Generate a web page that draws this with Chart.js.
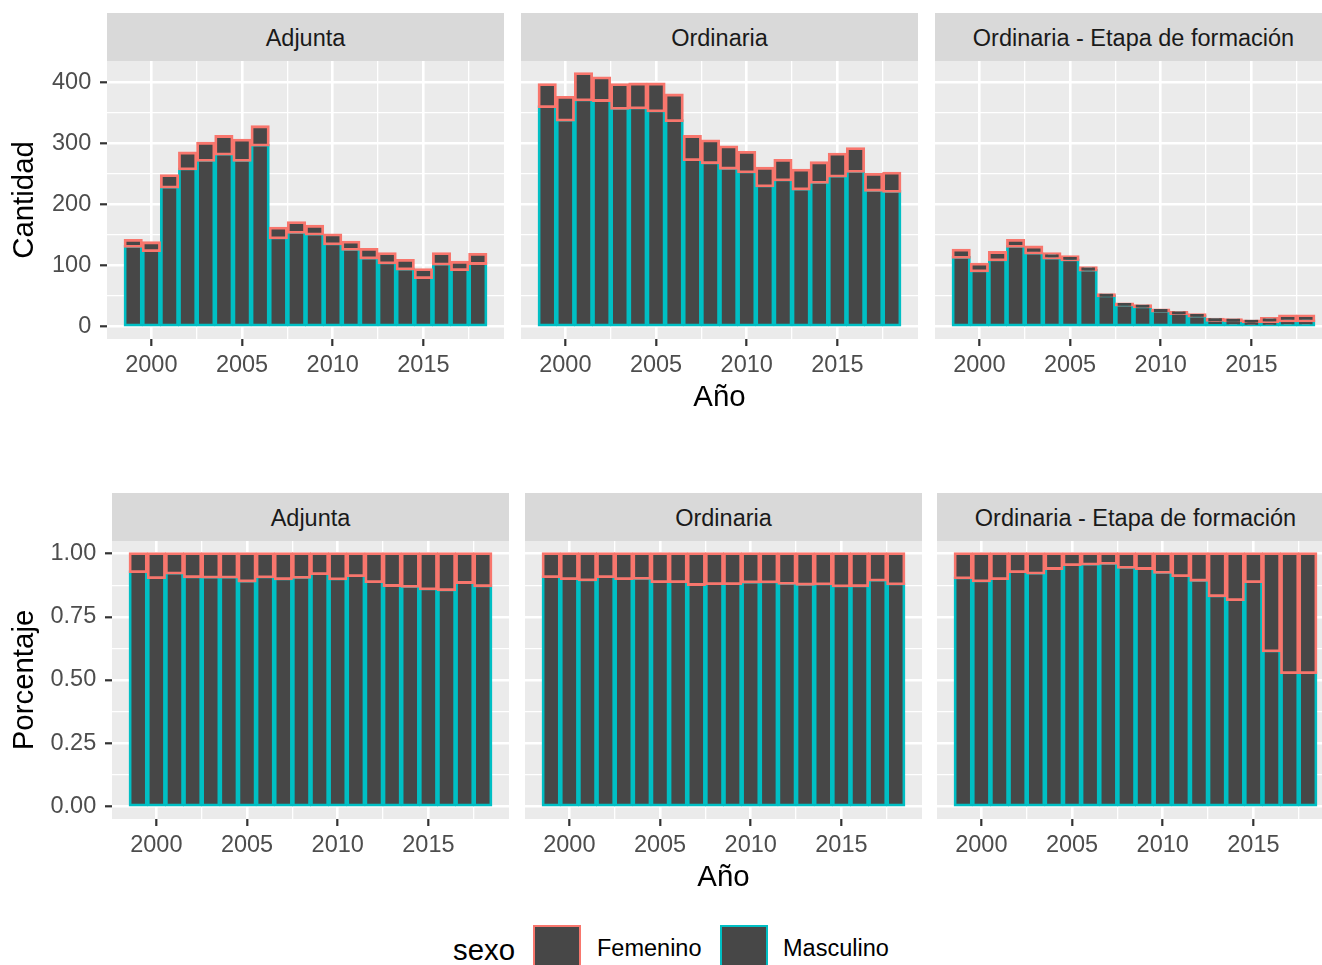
<!DOCTYPE html>
<html>
<head>
<meta charset="utf-8">
<title>Cantidad y porcentaje por sexo</title>
<script src="https://cdn.jsdelivr.net/npm/chart.js@4.4.1/dist/chart.umd.min.js"></script>
<style>
  html, body { margin: 0; padding: 0; background: #ffffff; width: 1322px; height: 965px; overflow: hidden; }
  body { position: relative; font-family: "Liberation Sans", Arial, Helvetica, sans-serif; }
  .strip { position: absolute; background: #D9D9D9; color: #1A1A1A; font-size: 23.5px; text-align: center;
           box-sizing: border-box; height: 48px; padding-top: 3px; line-height: 45px; white-space: nowrap; overflow: hidden; }
  canvas { position: absolute; }
  .leg { position: absolute; line-height: 1; white-space: nowrap; color: #000; }
  .key { position: absolute; box-sizing: border-box; width: 48px; height: 48px; }
</style>
</head>
<body>
<script>
// ---- data ----------------------------------------------------------------
const years = [1999, 2000, 2001, 2002, 2003, 2004, 2005, 2006, 2007, 2008,
               2009, 2010, 2011, 2012, 2013, 2014, 2015, 2016, 2017, 2018];

const categories = ['Adjunta', 'Ordinaria', 'Ordinaria - Etapa de formación'];
const seriesNames = ['Femenino', 'Masculino'];

const adjuntaFemenino   = [10, 13, 19, 26, 28, 29, 33, 30, 16, 16, 13, 15, 12, 14, 15, 14, 13, 17, 12, 15];
const adjuntaMasculino  = [131, 124, 228, 258, 272, 282, 272, 297, 145, 154, 151, 135, 126, 112, 104, 94, 80, 102, 93, 103];

const ordinariaFemenino  = [36, 37, 43, 37, 39, 39, 44, 42, 38, 36, 35, 32, 29, 32, 31, 32, 36, 37, 26, 30];
const ordinariaMasculino = [360, 338, 371, 370, 357, 358, 353, 337, 273, 268, 259, 253, 230, 240, 225, 236, 246, 254, 223, 221];

const etapaFemenino  = [12, 11, 12, 10, 10, 7, 5, 4, 2, 2, 2, 2, 2, 2, 2, 2, 1, 5, 8, 8];
const etapaMasculino = [113, 91, 109, 131, 120, 112, 109, 92, 50, 35, 32, 25, 21, 17, 10, 9, 8, 8, 9, 9];

// axis breaks and their labels
const yearBreaks = [2000, 2005, 2010, 2015];
const yearLabels = ['2000', '2005', '2010', '2015'];
const yearMinorBreaks = [2002.5, 2007.5, 2012.5, 2017.5];

const countBreaks = [0, 100, 200, 300, 400];
const countLabels = ['0', '100', '200', '300', '400'];
const countMinorBreaks = [50, 150, 250, 350];

const shareBreaks = [0, 0.25, 0.5, 0.75, 1];
const shareLabels = ['0.00', '0.25', '0.50', '0.75', '1.00'];
const shareMinorBreaks = [0.125, 0.375, 0.625, 0.875];

const femeninoData  = [adjuntaFemenino, ordinariaFemenino, etapaFemenino];
const masculinoData = [adjuntaMasculino, ordinariaMasculino, etapaMasculino];

// ---- style ---------------------------------------------------------------
const FONT = '"Liberation Sans", Arial, Helvetica, sans-serif';
const colFem = '#F8766D';
const colMasc = '#00BFC4';
const barFill = '#474747';
const panelBg = '#EBEBEB';

// ---- scale limits (5% expansion as in the plotting grammar) -------------
const totals = femeninoData.flatMap((f, k) => f.map((v, i) => v + masculinoData[k][i]));
const maxTotal = Math.max(...totals);
const countMin = -0.05 * maxTotal, countMax = 1.05 * maxTotal;
const shareMin = -0.05, shareMax = 1.05;
const xLo = years[0] - 0.45, xHi = years[years.length - 1] + 0.45;
const xMin = xLo - 0.05 * (xHi - xLo), xMax = xHi + 0.05 * (xHi - xLo);

// ---- panel background plugin --------------------------------------------
const panelBackground = {
  id: 'panelBackground',
  beforeDraw(chart) {
    const {ctx, chartArea: a} = chart;
    ctx.save();
    ctx.fillStyle = panelBg;
    ctx.fillRect(a.left, a.top, a.right - a.left, a.bottom - a.top);
    ctx.restore();
  }
};

function gridScale(major, minor, labels, opts) {
  const isMajor = v => major.indexOf(v) !== -1;
  return {
    type: 'linear',
    position: opts.position,
    min: opts.min,
    max: opts.max,
    offset: false,
    afterBuildTicks: s => { s.ticks = major.concat(minor).sort((a, b) => a - b).map(v => ({value: v})); },
    ticks: {
      display: opts.showLabels,
      autoSkip: false,
      maxRotation: 0,
      minRotation: 0,
      padding: opts.labelPad,
      color: '#4D4D4D',
      font: {family: FONT, size: 23.5},
      callback: v => { const i = major.indexOf(v); return i === -1 ? '' : labels[i]; }
    },
    grid: {
      offset: false,
      color: '#FFFFFF',
      lineWidth: c => (c.tick && isMajor(c.tick.value)) ? 2.6 : 1.3,
      drawTicks: opts.showLabels,
      tickLength: 7,
      tickWidth: 2.2,
      tickColor: c => (c.tick && isMajor(c.tick.value)) ? '#333333' : 'rgba(0,0,0,0)'
    },
    border: {display: false},
    title: opts.title ? {
      display: true,
      text: opts.title,
      color: '#000000',
      font: {family: FONT, size: 29.4},
      padding: opts.titlePad
    } : {display: false},
    afterFit: s => {
      if (opts.position === 'left') s.width = opts.size; else s.height = opts.size;
      s.paddingTop = 0; s.paddingBottom = 0; s.paddingLeft = 0; s.paddingRight = 0;
    }
  };
}

function makePanel(p) {
  const fem = femeninoData[p.facet];
  const masc = masculinoData[p.facet];
  const share = p.mode === 'share';
  const bottomSeg = years.map((y, i) => {
    const t = share ? masc[i] + fem[i] : 1;
    return {x: y, y: [0, masc[i] / t]};
  });
  const topSeg = years.map((y, i) => {
    const t = share ? masc[i] + fem[i] : 1;
    return {x: y, y: [masc[i] / t, (masc[i] + fem[i]) / t]};
  });

  const canvas = document.createElement('canvas');
  canvas.width = p.yAxisW + p.panelW;
  canvas.height = p.panelH + p.xAxisH;
  canvas.style.left = p.left + 'px';
  canvas.style.top = p.top + 'px';
  document.body.appendChild(canvas);

  const barOpts = {
    backgroundColor: barFill,
    borderWidth: 2.8,
    inflateAmount: 1.4,
    borderSkipped: false,
    grouped: false,
    barPercentage: 0.9,
    categoryPercentage: 1
  };

  new Chart(canvas, {
    type: 'bar',
    data: {
      datasets: [
        Object.assign({label: seriesNames[0], data: topSeg, borderColor: colFem}, barOpts),
        Object.assign({label: seriesNames[1], data: bottomSeg, borderColor: colMasc}, barOpts)
      ]
    },
    options: {
      responsive: false,
      animation: false,
      events: [],
      layout: {padding: 0},
      plugins: {legend: {display: false}, tooltip: {enabled: false}, title: {display: false}},
      scales: {
        x: gridScale(yearBreaks, yearMinorBreaks, yearLabels, {
          position: 'bottom', min: xMin, max: xMax, showLabels: true, labelPad: 5,
          title: p.xTitle, titlePad: {top: 0, bottom: 3.9}, size: p.xAxisH
        }),
        y: gridScale(share ? shareBreaks : countBreaks,
                     share ? shareMinorBreaks : countMinorBreaks,
                     share ? shareLabels : countLabels, {
          position: 'left',
          min: share ? shareMin : countMin, max: share ? shareMax : countMax,
          showLabels: !!p.yTitle, labelPad: 8.8,
          title: p.yTitle, titlePad: {top: 7.4, bottom: 0}, size: p.yAxisW
        })
      }
    },
    plugins: [panelBackground]
  });

  const strip = document.createElement('div');
  strip.className = 'strip';
  strip.textContent = categories[p.facet];
  strip.style.left = (p.left + p.yAxisW) + 'px';
  strip.style.top = (p.top - 48) + 'px';
  strip.style.width = p.panelW + 'px';
  document.body.appendChild(strip);
}

// ---- layout: two rows of three facets -----------------------------------
const PANEL_W = 397, PANEL_H = 278, XAXIS_H = 80;
const rows = [
  {mode: 'count', top: 61,  lefts: [0, 521, 935], firstAxisW: 107, yTitle: 'Cantidad'},
  {mode: 'share', top: 541, lefts: [0, 525, 937], firstAxisW: 112, yTitle: 'Porcentaje'}
];
rows.forEach(r => {
  [0, 1, 2].forEach(k => {
    makePanel({
      facet: k,
      mode: r.mode,
      left: r.lefts[k],
      top: r.top,
      yAxisW: k === 0 ? r.firstAxisW : 0,
      panelW: PANEL_W,
      panelH: PANEL_H,
      xAxisH: XAXIS_H,
      yTitle: k === 0 ? r.yTitle : null,
      xTitle: k === 1 ? 'Año' : null
    });
  });
});

// ---- legend --------------------------------------------------------------
(function legend() {
  const title = document.createElement('div');
  title.className = 'leg';
  title.textContent = 'sexo';
  title.style.cssText += 'left:453px;top:935px;font-size:29.4px;';
  document.body.appendChild(title);

  const keyLefts = [533, 720];
  const textLefts = [597, 783];
  const cols = [colFem, colMasc];
  seriesNames.forEach((name, i) => {
    const key = document.createElement('div');
    key.className = 'key';
    key.style.cssText += `left:${keyLefts[i]}px;top:925px;background:${barFill};border:2.8px solid ${cols[i]};`;
    document.body.appendChild(key);
    const lab = document.createElement('div');
    lab.className = 'leg';
    lab.textContent = name;
    lab.style.cssText += `left:${textLefts[i]}px;top:937px;font-size:23.5px;`;
    document.body.appendChild(lab);
  });
})();
</script>
</body>
</html>
